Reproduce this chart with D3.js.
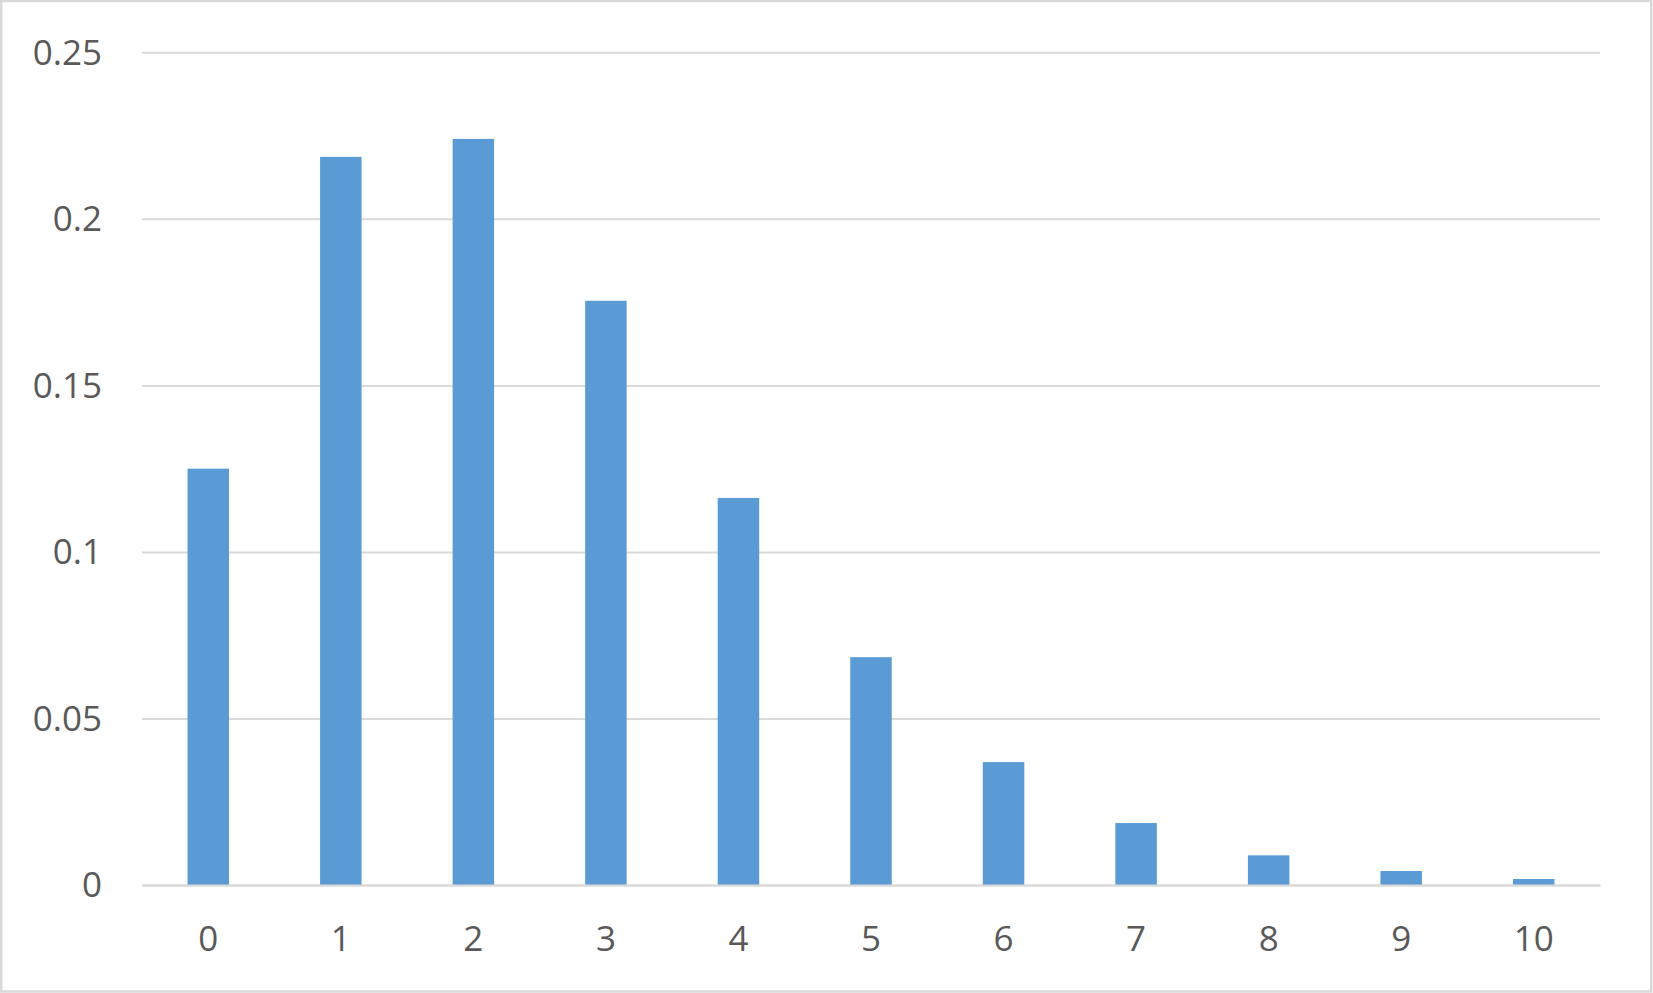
<!DOCTYPE html>
<html>
<head>
<meta charset="utf-8">
<script src="https://cdn.jsdelivr.net/npm/d3@7"></script>
<style>
  body { margin: 0; background: #fff; }
  svg { display: block; }
  text { font-family: "Open Sans", "Noto Sans", sans-serif; fill: #595959; }
</style>
</head>
<body>
<script>
// data
const categories = ["0", "1", "2", "3", "4", "5", "6", "7", "8", "9", "10"];
const values = [0.125, 0.2186, 0.224, 0.1754, 0.1162, 0.0684, 0.0369, 0.0186, 0.0089, 0.0042, 0.0018];
const yTicks = [0, 0.05, 0.1, 0.15, 0.2, 0.25];
const yTickLabels = ["0", "0.05", "0.1", "0.15", "0.2", "0.25"];

let width = 1653,
    height = 993;

let margin = {top: 52.3, right: 53, bottom: 108, left: 142};

let svg = d3.select("body")
    .append("svg")
    .attr("width", width)
    .attr("height", height);

// chart frame
svg.append("rect")
    .attr("x", 1.25)
    .attr("y", 1)
    .attr("width", width - 3)
    .attr("height", height - 2.5)
    .attr("fill", "#fff")
    .attr("stroke", "#d9d9d9")
    .attr("stroke-width", 2.5);

let x = d3.scaleBand()
    .domain(categories)
    .range([margin.left, width - margin.right])
    .paddingInner(0.687)
    .paddingOuter(0.3435);

let y = d3.scaleLinear()
    .domain([0, 0.25])
    .range([height - margin.bottom, margin.top]);

// gridlines + y labels
let yAxis = svg.append("g")
    .attr("transform", `translate(${margin.left},0)`)
    .call(d3.axisLeft(y)
        .tickValues(yTicks)
        .tickFormat((d, i) => yTickLabels[i])
        .tickSize(-(width - margin.left - margin.right))
        .tickPadding(40));

yAxis.select(".domain").remove();
yAxis.selectAll(".tick line")
    .attr("stroke", "#d9d9d9")
    .attr("stroke-width", 2);
yAxis.selectAll(".tick text")
    .style("font-size", "35px")
    .attr("dy", "0.34em");

// bars
svg.append("g")
    .selectAll("rect")
    .data(values)
    .enter().append("rect")
    .attr("x", (d, i) => x(categories[i]))
    .attr("y", d => y(d))
    .attr("width", x.bandwidth())
    .attr("height", d => y(0) - y(d))
    .attr("fill", "#5b9bd5");

// category axis
let xAxis = svg.append("g")
    .attr("transform", `translate(0,${y(0)})`)
    .call(d3.axisBottom(x).tickSize(0).tickPadding(66));

xAxis.select(".domain")
    .attr("stroke", "#d9d9d9")
    .attr("stroke-width", 2);
xAxis.selectAll(".tick text")
    .style("font-size", "35px")
    .attr("dy", "0");
</script>
</body>
</html>
